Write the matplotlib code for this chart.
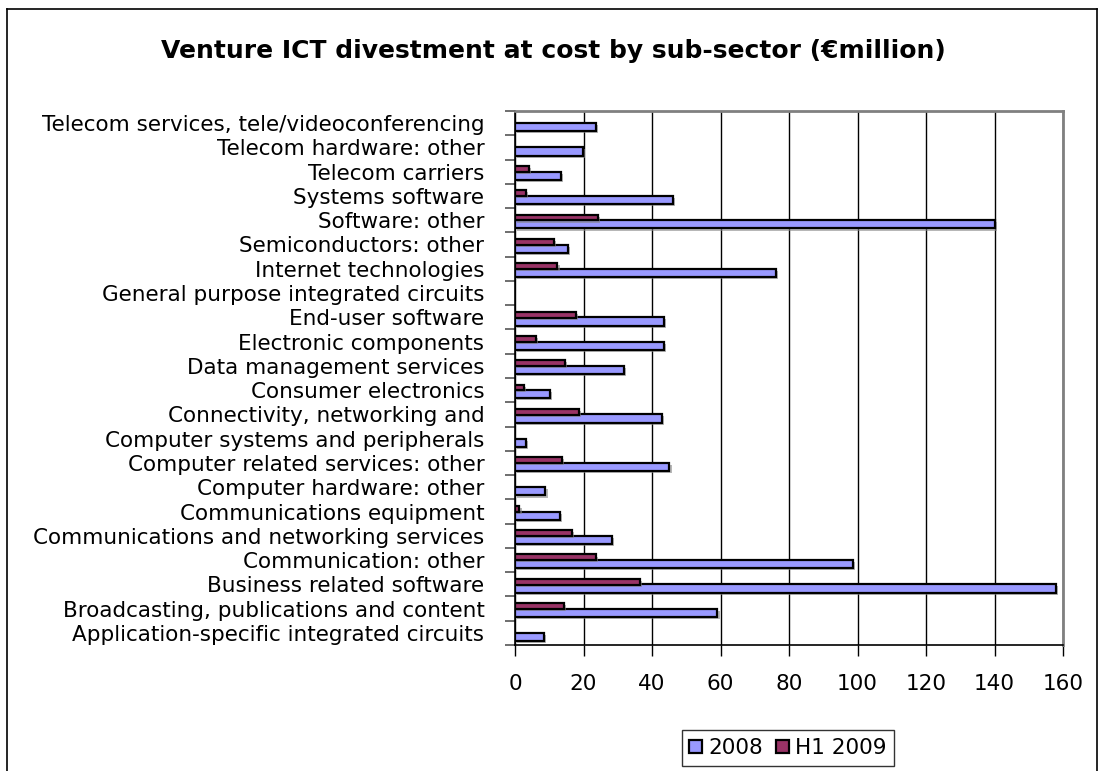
import numpy as np
import matplotlib
matplotlib.use("Agg")
import matplotlib.pyplot as plt
import matplotlib.patheffects as pe
from matplotlib.lines import Line2D

plt.rcParams["font.family"] = ["DejaVu Sans"]

# categories, listed top to bottom as in the chart
categories = [
    "Telecom services, tele/videoconferencing",
    "Telecom hardware: other",
    "Telecom carriers",
    "Systems software",
    "Software: other",
    "Semiconductors: other",
    "Internet technologies",
    "General purpose integrated circuits",
    "End-user software",
    "Electronic components",
    "Data management services",
    "Consumer electronics",
    "Connectivity, networking and",
    "Computer systems and peripherals",
    "Computer related services: other",
    "Computer hardware: other",
    "Communications equipment",
    "Communications and networking services",
    "Communication: other",
    "Business related software",
    "Broadcasting, publications and content",
    "Application-specific integrated circuits",
]
vals_2008 = [23.6, 19.9, 13.5, 46.2, 140.0, 15.4, 76.1, 0, 43.4, 43.4, 31.8,
             10.2, 42.9, 3.2, 45.1, 8.9, 13.0, 28.2, 98.8, 158.0, 59.1, 8.4]
vals_h1_2009 = [0, 0, 4.2, 3.1, 24.1, 11.3, 12.4, 0, 17.7, 6.0, 14.7,
                2.5, 18.8, 0, 13.7, 0, 1.3, 16.6, 23.6, 36.4, 14.2, 0]
x_ticks = [0, 20, 40, 60, 80, 100, 120, 140, 160]

blue = "#9999FF"
maroon = "#993366"

fig = plt.figure(figsize=(11.06, 7.71), dpi=100)
ax = fig.add_axes([515 / 1106, 1 - 645 / 771, (1063 - 515) / 1106, (645 - 111) / 771])

n = len(categories)
ypos = np.arange(n)[::-1]  # top category gets highest y
v08 = np.array(vals_2008)
v09 = np.array(vals_h1_2009)

shadow = [pe.SimplePatchShadow(offset=(1.5, -1.5), shadow_rgbFace="#888888", alpha=0.6), pe.Normal()]

m08 = v08 > 0
m09 = v09 > 0
b1 = ax.barh(ypos[m08] - 0.17, v08[m08], height=0.34, color=blue,
             edgecolor="black", linewidth=1.6, zorder=3, label="2008")
b2 = ax.barh(ypos[m09] + 0.11, v09[m09], height=0.24, color=maroon,
             edgecolor="black", linewidth=1.6, zorder=3, label="H1 2009")
for b in list(b1) + list(b2):
    b.set_path_effects(shadow)

ax.set_xlim(0, 160)
ax.set_ylim(-0.5, n - 0.5)
ax.set_xticks(x_ticks)
ax.xaxis.grid(True, color="black", linewidth=1.0, zorder=0)
ax.set_axisbelow(True)
ax.tick_params(axis="x", length=8, width=1, color="black", labelsize=15.5, pad=13)

# category boundaries get tick marks, labels sit at the centres
ax.set_yticks(np.arange(n + 1) - 0.5)
ax.set_yticklabels([])
ax.set_yticks(ypos, minor=True)
ax.set_yticklabels(categories, minor=True)
ax.tick_params(axis="y", which="major", length=7, width=1.2, color="#555555")
ax.tick_params(axis="y", which="minor", length=0, labelsize=15.5, pad=22)

for s in ["top", "right"]:
    ax.spines[s].set_color("#808080")
    ax.spines[s].set_linewidth(2)
ax.spines["left"].set_color("black")
ax.spines["bottom"].set_color("black")
ax.spines["left"].set_linewidth(1.2)
ax.spines["bottom"].set_linewidth(1.2)

fig.text(0.5, 1 - 51 / 771, "Venture ICT divestment at cost by sub-sector (€million)",
         ha="center", va="center", fontsize=18, fontweight="bold")

leg = fig.legend(handles=[b1, b2], labels=["2008", "H1 2009"], loc="center",
                 bbox_to_anchor=(788 / 1106, 1 - 748 / 771), ncol=2, fontsize=15.5,
                 frameon=True, fancybox=False, edgecolor="black",
                 handlelength=0.6, handleheight=0.6, handletextpad=0.3,
                 columnspacing=0.6, borderpad=0.35)
leg.get_frame().set_linewidth(1.0)
for h in leg.legend_handles:
    h.set_path_effects([])

# outer chart border (bottom edge is cut off in the original)
fig.add_artist(Line2D([7 / 1106, 7 / 1106], [0, 1 - 9 / 771], color="black", linewidth=1.2))
fig.add_artist(Line2D([7 / 1106, 1097 / 1106], [1 - 9 / 771, 1 - 9 / 771], color="black", linewidth=1.2))
fig.add_artist(Line2D([1097 / 1106, 1097 / 1106], [0, 1 - 9 / 771], color="black", linewidth=1.2))

fig.savefig("out.png", dpi=100)
